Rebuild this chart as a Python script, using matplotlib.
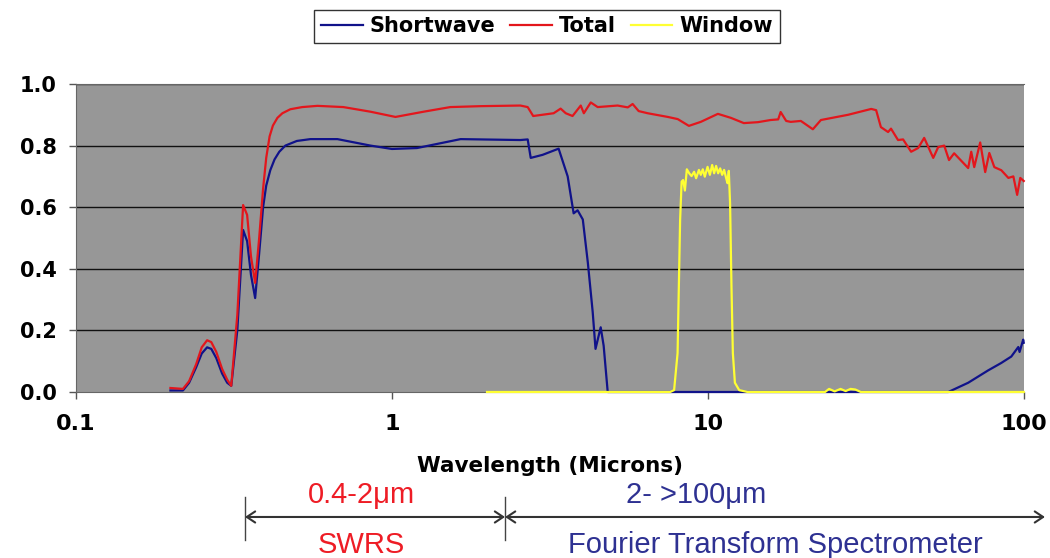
import numpy as np
import matplotlib
matplotlib.use("Agg")
import matplotlib.pyplot as plt

# Shortwave channel (wavelength in microns, response)
sw_wl = [0.199, 0.218, 0.228, 0.240, 0.250, 0.260, 0.268, 0.278, 0.290, 0.301, 0.310,
         0.324, 0.338, 0.348, 0.358, 0.369, 0.380, 0.391, 0.400, 0.412, 0.425, 0.44,
         0.46, 0.50, 0.552, 0.672, 0.855,
         1.0, 1.2, 1.65, 2.55, 2.69, 2.75, 3.0, 3.37, 3.60, 3.76, 3.87, 4.02,
         4.17, 4.32, 4.41, 4.58, 4.68, 4.82, 57.7, 66.7, 77.1, 84.8, 91.3,
         96.1, 97.0, 99.6, 100.0]
sw_val = [0.005, 0.005, 0.03, 0.08, 0.125, 0.145, 0.14, 0.11, 0.06, 0.03, 0.02,
          0.20, 0.526, 0.49, 0.38, 0.305, 0.45, 0.60, 0.67, 0.72, 0.755, 0.78,
          0.80, 0.815, 0.821, 0.821, 0.80,
          0.789, 0.792, 0.821, 0.818, 0.82, 0.76, 0.77, 0.79, 0.70, 0.58, 0.59, 0.56,
          0.42, 0.26, 0.14, 0.21, 0.15, 0.0, 0.0, 0.03, 0.07, 0.094, 0.115,
          0.146, 0.13, 0.17, 0.16]

# Total channel
tot_wl = [0.199, 0.218, 0.228, 0.240, 0.250, 0.260, 0.268, 0.278, 0.290, 0.301, 0.310,
          0.324, 0.338, 0.348, 0.358, 0.369, 0.380, 0.391, 0.400, 0.410, 0.420, 0.434,
          0.45, 0.477, 0.52, 0.581, 0.702, 0.855,
          1.026, 1.26, 1.53, 1.91, 2.55, 2.69, 2.80, 3.25, 3.42, 3.55, 3.73,
          3.96, 4.05, 4.26, 4.48, 5.18, 5.58, 5.78, 6.04, 6.45, 6.94, 7.47,
          8.03, 8.71, 9.50, 10.76, 11.83, 13.0, 14.4, 15.8, 16.7, 17.0, 17.7,
          18.3, 19.7, 21.5, 22.8, 27.8, 32.9, 34.1, 35.3, 37.2, 38.0, 40.0,
          41.5, 44.0, 46.3, 48.4, 51.7, 53.6, 56.0, 58.0, 60.2, 66.7, 68.2,
          69.7, 72.8, 75.5, 77.8, 80.7, 84.9, 89.4, 92.7, 95.3, 97.5, 100.0]
tot_val = [0.013, 0.01, 0.035, 0.09, 0.145, 0.168, 0.162, 0.13, 0.075, 0.04, 0.02,
           0.25, 0.607, 0.575, 0.44, 0.354, 0.50, 0.66, 0.76, 0.83, 0.865, 0.89,
           0.905, 0.918, 0.925, 0.929, 0.925, 0.91,
           0.893, 0.91, 0.925, 0.928, 0.93, 0.925, 0.896, 0.905, 0.92, 0.905, 0.896,
           0.93, 0.905, 0.94, 0.925, 0.93, 0.924, 0.935, 0.912, 0.905, 0.899, 0.893,
           0.886, 0.864, 0.877, 0.903, 0.89, 0.873, 0.876, 0.883, 0.885, 0.909, 0.88,
           0.877, 0.88, 0.853, 0.883, 0.90, 0.919, 0.915, 0.86, 0.844, 0.855, 0.818,
           0.82, 0.78, 0.792, 0.825, 0.76, 0.795, 0.80, 0.753, 0.775, 0.727, 0.78,
           0.73, 0.81, 0.714, 0.776, 0.73, 0.72, 0.695, 0.70, 0.64, 0.695, 0.685]

# Window channel
win_wl = [2.0, 7.6, 7.82, 8.02, 8.17, 8.26, 8.35, 8.46, 8.58, 8.73, 8.88, 9.05,
          9.18, 9.37, 9.50, 9.64, 9.78, 9.98, 10.15, 10.32, 10.47, 10.62, 10.78,
          10.94, 11.10, 11.26, 11.43, 11.54, 11.65, 11.76, 11.88, 12.00, 12.18,
          12.57, 13.36, 23.5, 24.2, 25.2, 26.3, 27.3, 28.3, 29.3, 30.5, 100.0]
win_val = [0.0, 0.0, 0.006, 0.126, 0.558, 0.683, 0.688, 0.654, 0.723, 0.71, 0.701, 0.715,
           0.694, 0.721, 0.705, 0.723, 0.699, 0.731, 0.705, 0.737, 0.71, 0.734, 0.71,
           0.726, 0.705, 0.721, 0.694, 0.678, 0.718, 0.612, 0.342, 0.126, 0.03,
           0.006, 0.0, 0.0, 0.01, 0.002, 0.01, 0.003, 0.01, 0.008, 0.0, 0.0]

yticks = [0.0, 0.2, 0.4, 0.6, 0.8, 1.0]
xticks = [0.1, 1, 10, 100]
xtick_labels = ["0.1", "1", "10", "100"]

fig = plt.figure(figsize=(10.5, 5.58), dpi=100)
ax = fig.add_axes([0.0724, 0.2975, 0.9026, 0.552])
ax.set_facecolor("#979797")

for y in yticks[1:]:
    ax.axhline(y, color="#111111", lw=1, zorder=1)

ax.plot(sw_wl, sw_val, color="#10128a", lw=1.6, label="Shortwave", zorder=3, clip_on=False)
ax.plot(tot_wl, tot_val, color="#e3161c", lw=1.6, label="Total", zorder=4, clip_on=False)
ax.plot(win_wl, win_val, color="#ffff33", lw=1.6, label="Window", zorder=5, clip_on=False)

ax.set_xscale("log")
ax.set_xlim(0.1, 100)
ax.set_ylim(0, 1.0)
ax.set_yticks(yticks)
ax.set_yticklabels(["%.1f" % v for v in yticks])
ax.set_xticks(xticks)
ax.set_xticklabels(xtick_labels)
ax.xaxis.set_minor_locator(matplotlib.ticker.NullLocator())
ax.tick_params(axis="y", length=5, width=1, color="#555555", pad=9, labelsize=15)
ax.tick_params(axis="x", length=5, width=1, color="#555555", pad=11, labelsize=16)
for lab in ax.get_xticklabels() + ax.get_yticklabels():
    lab.set_fontweight("bold")

for side in ["left", "top", "bottom"]:
    ax.spines[side].set_color("#666666")
ax.spines["right"].set_visible(False)

ax.set_xlabel("Wavelength (Microns)", fontsize=15.5, fontweight="bold", labelpad=16)

leg = fig.legend(loc="center", bbox_to_anchor=(0.521, 0.953), ncol=3,
                 prop={"weight": "bold", "size": 15}, frameon=True, fancybox=False,
                 edgecolor="black", handlelength=2.0, handletextpad=0.35,
                 columnspacing=0.7, borderpad=0.32)
leg.get_frame().set_linewidth(1)

# instrument ranges under the axis
arrow_y = 0.0735
x0, x1, x2 = 0.2333, 0.481, 0.9952
for x in (x0, x1):
    fig.add_artist(plt.Line2D([x, x], [0.032, 0.109], color="#444444", lw=1))
for a, b in ((x0, x1), (x1, x2)):
    fig.add_artist(matplotlib.patches.FancyArrowPatch(
        (a, arrow_y), (b, arrow_y), arrowstyle="<->,head_length=6,head_width=4",
        color="#333333", lw=1.5, transform=fig.transFigure, shrinkA=0, shrinkB=0))

font_txt = ["Liberation Sans", "DejaVu Sans"]
fig.text(0.344, 0.113, "0.4-2μm", color="#ee1c25", fontsize=21, ha="center", va="center", family=font_txt)
fig.text(0.344, 0.024, "SWRS", color="#ee1c25", fontsize=21, ha="center", va="center", family=font_txt)
fig.text(0.663, 0.113, "2- >100μm", color="#2e3192", fontsize=21, ha="center", va="center", family=font_txt)
fig.text(0.738, 0.024, "Fourier Transform Spectrometer", color="#2e3192", fontsize=21,
         ha="center", va="center", family=font_txt)

fig.savefig("out.png", dpi=100)
